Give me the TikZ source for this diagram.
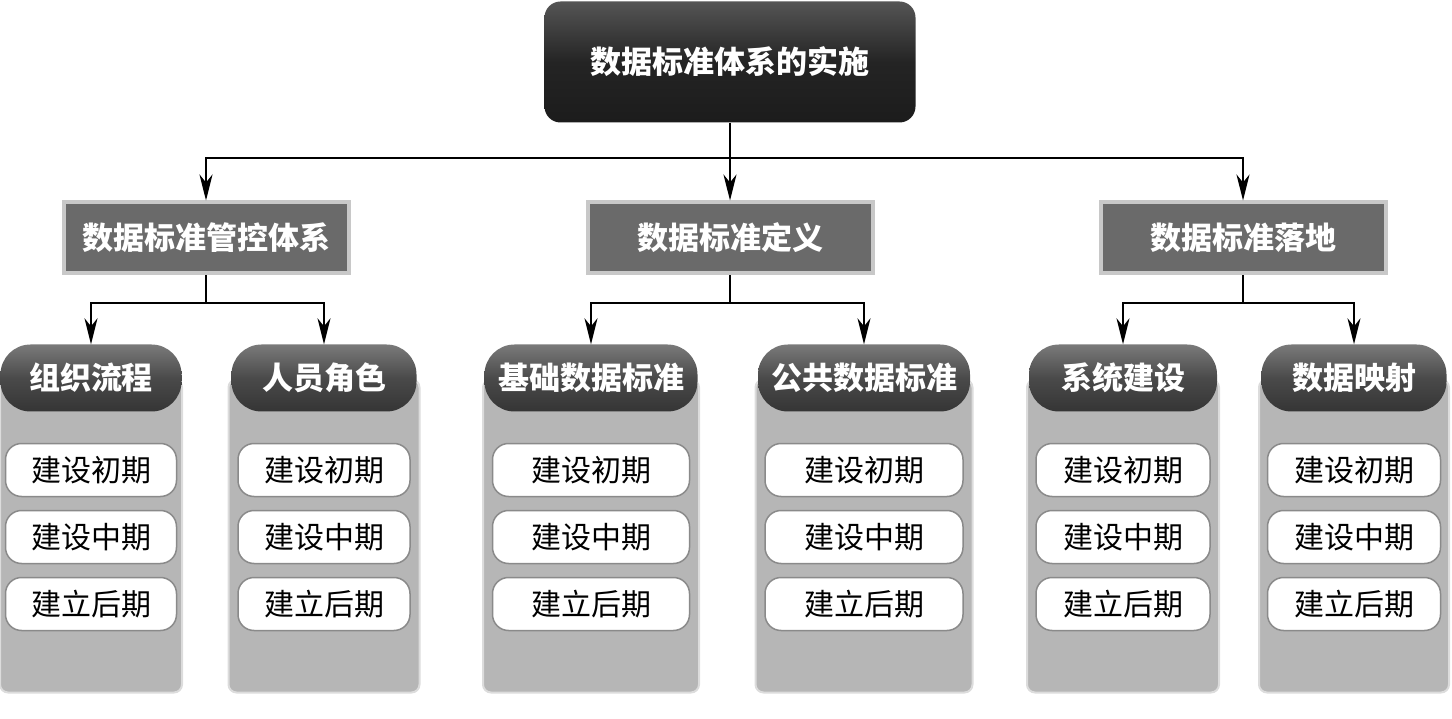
\documentclass[tikz,border=0pt]{standalone}
\usepackage{fontspec}
\newfontfamily\cjk{Noto Sans CJK SC}
\usetikzlibrary{arrows.meta}
\definecolor{roottop}{HTML}{555555}
\definecolor{rootmid}{HTML}{242424}
\definecolor{rootbot}{HTML}{1C1C1C}
\definecolor{branchfill}{HTML}{6A6A6A}
\definecolor{branchline}{HTML}{C8C8C8}
\definecolor{pilltop}{HTML}{7A7A7A}
\definecolor{pillmid}{HTML}{4A4A4A}
\definecolor{pillbot}{HTML}{353535}
\definecolor{panelfill}{HTML}{B6B6B6}
\definecolor{panelline}{HTML}{DCDCDC}
\definecolor{stageline}{HTML}{8A8A8A}
\tikzset{%
  root/.style={%
    rectangle,%
    rounded corners=16pt,%
    minimum width=371pt,%
    minimum height=121pt,%
    top color=roottop,%
    bottom color=rootbot,%
    middle color=rootmid,%
    text=white,%
    font=\cjk\bfseries\fontsize{31}{36}\selectfont},
  branch/.style={%
    rectangle,%
    draw=branchline,%
    line width=4pt,%
    fill=branchfill,%
    minimum width=285pt,%
    minimum height=71pt,%
    text=white,%
    font=\cjk\bfseries\fontsize{31}{36}\selectfont},
  pill/.style={%
    rectangle,%
    rounded corners=30pt,%
    minimum height=67pt,%
    inner sep=2pt,%
    top color=pilltop,%
    bottom color=pillbot,%
    middle color=pillmid,%
    text=white,%
    font=\cjk\bfseries\fontsize{31}{36}\selectfont},
  panel/.style={%
    rectangle,%
    rounded corners=8pt,%
    draw=panelline,%
    line width=2pt,%
    fill=panelfill,%
    minimum height=313pt},
  stage/.style={%
    rectangle,%
    rounded corners=16pt,%
    draw=stageline,%
    line width=1.5pt,%
    fill=white,%
    minimum height=53pt,%
    inner sep=2pt,%
    font=\cjk\fontsize{30}{36}\selectfont},
  link/.style={%
    line width=2pt,%
    -{Stealth[length=26pt,width=13pt,inset=8pt]}}
}
\begin{document}
\begin{tikzpicture}[x=1pt,y=-1pt]
  \useasboundingbox (0,0) rectangle (1452,719);
  % top of the tree
  \node [root] (root) at (730,62) {数据标准体系的实施};
  \node [branch] (ctrl) at (206,238) {数据标准管控体系};
  \node [branch] (defn) at (730,238) {数据标准定义};
  \node [branch] (land) at (1243,238) {数据标准落地};
  \coordinate (hub) at (730,158);
  \draw [line width=2pt] (root.south) -- (hub);
  \draw [link] (hub) -| (ctrl.north);
  \draw [link] (hub) -- (defn.north);
  \draw [link] (hub) -| (land.north);
  % columns
  \foreach \c/\cx/\pw/\hw/\iw/\txt in {%
      1/91/182/181/171/组织流程,
      2/324/191/185/172/人员角色,
      3/591/216/213/197/基础数据标准,
      4/864/217/212/198/公共数据标准,
      5/1123/192/188/174/系统建设,
      6/1354/190/185/173/数据映射}{
    \node [panel, minimum width=\pw pt] (panel\c) at (\cx,536) {};
    \node [pill, minimum width=\hw pt] (pill\c) at (\cx,378) {\txt};
    \node [stage, minimum width=\iw pt] (early\c) at (\cx,470) {建设初期};
    \node [stage, minimum width=\iw pt] (mid\c) at (\cx,537) {建设中期};
    \node [stage, minimum width=\iw pt] (late\c) at (\cx,604) {建立后期};
  }
  % second level to columns
  \coordinate (busl) at (206,303);
  \coordinate (busm) at (730,303);
  \coordinate (busr) at (1243,303);
  \draw [line width=2pt] (ctrl.south) -- (busl);
  \draw [line width=2pt] (defn.south) -- (busm);
  \draw [line width=2pt] (land.south) -- (busr);
  \draw [link] (busl) -| (pill1.north);
  \draw [link] (busl) -| (pill2.north);
  \draw [link] (busm) -| (pill3.north);
  \draw [link] (busm) -| (pill4.north);
  \draw [link] (busr) -| (pill5.north);
  \draw [link] (busr) -| (pill6.north);
\end{tikzpicture}
\end{document}
